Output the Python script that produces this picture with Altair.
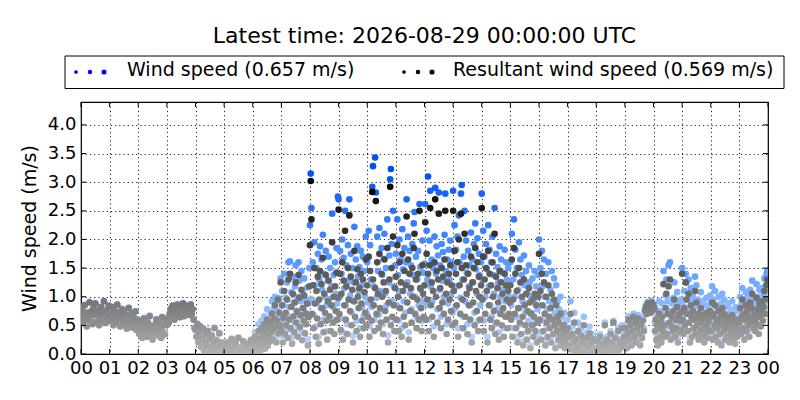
import altair as alt
import pandas as pd

TITLE = "Latest time: 2026-08-29 00:00:00 UTC"
LABEL_WIND = "Wind speed (0.657 m/s)"
LABEL_RES = "Resultant wind speed (0.569 m/s)"
Y_TITLE = "Wind speed (m/s)"
HOUR_TICKS = list(range(0, 25))
Y_TICKS = [0.0, 0.5, 1.0, 1.5, 2.0, 2.5, 3.0, 3.5, 4.0]

# Resultant wind speed: one string per hour, evenly spaced samples within the hour (cm/s)
RESULTANT = [
    "62 78 55 70 85 60 48 72 66 90 58 74 52 80 68 88 56 70 76 50 64 82 58 72 92 60 54 76 68 84",
    "70 58 82 64 50 76 68 55 86 62 72 48 66 78 56 74 52 68 44 62 80 58 50 70 46 64 56 74 42 60",
    "48 35 58 42 28 52 62 38 45 30 55 40 66 34 48 25 50 44 36 60 42 32 54 46 28 64 38 50 34 58",
    "50 62 55 70 78 66 84 72 60 80 74 86 68 76 64 82 70 88 66 78 72 84 74 68 80 86 70 78 60 45",
    "42 30 52 20 38 48 12 28 44 6 22 35 15 40 2 26 10 32 4 18 45 8 24 0 14 36 5 20 1 12",
    "3 12 0 20 6 1 15 4 26 2 9 0 18 7 1 28 3 11 0 8 22 2 14 5 0 17 4 10 24 6",
    "5 18 2 30 11 0 24 8 40 15 3 28 45 12 20 35 52 9 41 26 60 14 33 48 22 55 38 70 25 44 62 85 47 20 58 95 36 72 50 125",
    "42 85 20 63 110 35 72 50 95 28 130 60 140 45 82 18 105 66 38 90 125 55 74 30 138 98 47 68 112 24 80 58 102 36 70 52 88 15 64 118",
    "190 302 235 70 120 45 150 88 30 110 62 135 18 95 145 52 122 80 168 38 105 72 138 58 25 92 128 66 112 40 85 195 55 100 35 118 75 142 60 98",
    "252 70 140 42 105 160 25 128 85 215 60 118 35 150 95 242 75 135 50 112 20 92 180 65 125 40 148 100 80 115 30 140 88 58 130 45 108 72 165 50",
    "120 65 170 30 145 95 58 283 130 85 40 115 267 70 160 105 45 175 80 55 140 100 35 125 165 75 110 60 185 20 90 130 292 50 150 65 205 85 40 115",
    "135 60 190 100 40 160 80 125 30 175 110 65 145 50 120 240 90 165 25 140 75 115 55 150 100 185 210 70 130 45 95 140 60 250 115 80 40 155 105 65",
    "120 230 60 175 95 140 40 155 255 85 125 65 110 30 160 270 100 145 55 130 245 80 115 45 150 90 135 70 165 250 105 35 125 60 140 95 155 75 120 50",
    "250 110 180 55 140 85 160 30 200 120 70 245 150 95 45 130 210 65 155 105 35 140 85 115 60 170 20 125 90 150 50 185 110 75 160 40 135 100 60 120",
    "255 95 170 40 130 70 150 110 20 180 85 140 60 120 45 160 100 75 210 35 135 55 115 90 25 145 70 125 50 105 80 30 140 65 120 95 45 110 70 90",
    "120 60 165 30 95 185 70 140 45 110 20 80 150 55 125 35 100 65 15 130 85 50 105 25 75 40 115 90 10 70 50 95 30 65 105 40 85 20 55 100",
    "175 60 110 25 140 85 40 125 70 15 100 55 30 120 65 45 80 20 105 60 35 95 50 10 85 40 65 25 55 30 70 15 45 20 35 50 10 25 40 15",
    "45 15 30 70 8 35 20 55 3 25 10 40 14 2 32 6 22 50 4 16 28 1 12 36 5 20 3 26 9 0",
    "5 22 2 12 30 0 8 18 3 50 10 25 1 15 6 35 2 20 55 9 28 4 14 40 7 22 11 45 16 30",
    "20 45 10 35 60 25 50 15 40 65 30 55 20 45 62 35 15 50 28 58 40 75 82 70 88 78 85 72 90 80",
    "85 78 40 60 25 50 15 45 70 30 55 20 65 40 122 50 30 80 105 35 70 118 55 130 25 48 65 40 75 95 30 60 45 82 20 68 38 58 72 42",
    "140 60 35 80 50 125 95 70 40 105 55 20 85 65 30 75 45 60 110 35 90 50 70 25 62 40 80 55 30 68 45 20 62 38 72 50 28 58 42 75",
    "65 40 90 25 70 50 85 30 60 45 20 75 55 35 65 15 80 50 40 70 25 60 45 30 65 50 20 58 35 42 68 28 52 38 18 60 45 30 55 40",
    "55 80 35 65 95 45 70 25 60 85 40 75 50 65 30 90 55 80 105 60 45 70 40 62 98 52 78 35 88 66 48 72 92 58 82 110 70 96 120 130",
]

# Wind speed (scalar mean): one string per hour (cm/s)
WIND = [
    "63 79 56 71 86 61 49 73 67 91 59 75 53 81 69 89 57 71 77 51 65 83 59 73 93 61 55 77 69 85",
    "71 59 83 65 51 77 69 56 87 63 73 49 67 79 57 75 53 69 45 63 81 59 51 71 47 65 57 75 43 61",
    "49 36 59 43 29 53 63 39 46 31 56 41 67 35 49 26 51 45 37 61 43 33 55 47 29 65 39 51 35 59",
    "51 63 56 71 79 67 85 73 61 81 75 87 69 77 65 83 71 89 67 79 73 85 75 69 81 87 71 79 61 46",
    "43 31 53 21 39 49 13 29 45 7 23 36 16 41 3 27 11 33 5 19 46 9 25 1 15 37 6 21 2 13",
    "4 13 1 21 7 2 16 5 27 3 10 1 19 8 2 29 4 12 1 9 23 3 15 6 1 18 5 11 25 7",
    "8 25 4 38 16 2 32 12 52 22 6 36 58 18 28 46 66 14 54 35 78 20 44 62 30 72 50 92 34 58 80 100 62 28 76 98 48 94 66 132",
    "60 110 32 85 140 52 98 70 125 42 160 82 162 64 108 30 135 90 55 118 155 76 100 45 160 128 66 92 145 38 106 80 132 52 95 72 116 26 88 150",
    "225 315 255 95 160 68 195 120 48 150 90 175 30 130 188 80 165 112 208 60 140 100 180 85 40 128 170 96 150 62 118 245 82 138 55 160 105 185 88 275",
    "270 98 180 62 140 200 38 168 115 250 85 155 52 190 128 270 102 175 72 150 32 125 222 92 165 58 188 135 110 152 45 180 120 82 170 66 145 100 205 72",
    "160 90 215 48 190 130 82 292 328 118 60 343 282 98 205 145 68 220 110 78 185 138 52 166 210 105 150 85 235 32 125 172 305 323 192 92 250 118 60 155",
    "175 85 235 138 58 200 110 165 45 218 148 92 185 72 160 270 125 205 38 180 105 155 78 192 138 228 248 100 170 65 130 180 85 262 152 112 58 198 142 92",
    "158 262 85 215 130 310 60 198 285 118 165 92 150 48 205 290 140 188 78 172 282 112 155 65 192 128 178 100 208 280 145 52 165 88 182 130 198 105 160 72",
    "285 150 225 80 182 118 205 45 242 160 98 280 295 130 65 170 250 92 198 142 52 180 118 155 85 212 30 165 125 192 72 228 148 105 202 58 175 138 85 160",
    "280 130 215 58 170 100 192 148 30 225 118 182 85 160 65 205 138 105 255 52 175 78 152 125 38 188 100 165 72 142 112 45 182 92 160 130 65 150 100 125",
    "160 85 210 45 130 235 100 182 65 150 30 112 195 80 165 52 138 92 22 172 120 72 145 38 105 58 155 125 15 100 72 132 45 92 145 58 118 30 78 138",
    "200 85 150 38 180 118 58 165 100 22 140 78 45 160 92 65 112 30 145 85 50 132 72 15 120 58 92 38 78 45 100 22 65 30 50 72 15 38 58 22",
    "60 22 42 92 12 48 28 72 5 34 15 55 20 4 44 9 30 65 6 22 38 2 18 48 8 28 5 35 13 1",
    "7 26 3 15 35 1 10 22 4 55 12 30 2 18 8 40 3 24 58 11 33 5 17 46 9 26 13 50 19 35",
    "24 50 12 40 66 30 55 18 45 70 35 60 24 50 68 40 18 56 32 64 45 78 85 73 91 81 88 75 93 83",
    "88 81 55 80 35 68 22 62 92 42 75 30 88 55 145 68 42 102 130 48 92 155 75 160 35 65 88 55 98 125 42 80 62 108 28 90 52 78 95 58",
    "150 85 48 110 72 140 125 95 55 130 78 28 115 90 42 100 62 82 135 48 120 70 95 35 85 55 108 75 42 92 62 28 85 52 98 70 38 80 58 102",
    "90 55 118 35 95 68 110 42 82 62 28 100 75 48 88 20 105 68 55 95 35 82 62 42 88 68 28 78 48 58 92 38 72 52 25 82 62 42 75 55",
    "75 100 48 88 115 62 92 35 82 108 55 98 68 88 42 112 75 102 128 82 62 95 55 85 122 72 100 48 112 88 65 95 115 78 105 132 92 120 140 145",
]


def to_frame(hour_strings, series):
    rows = []
    for h, s in enumerate(hour_strings):
        vals = [int(v) for v in s.split()]
        n = len(vals)
        for i, v in enumerate(vals):
            rows.append({"hour": h + i / n, "speed": v / 100.0, "series": series})
    return pd.DataFrame(rows)


wind_df = to_frame(WIND, "wind")
res_df = to_frame(RESULTANT, "resultant")
xtick_df = pd.DataFrame({"hour": HOUR_TICKS})
ytick_df = pd.DataFrame({"speed": Y_TICKS})

W, H = 687, 252
FONT = "DejaVu Sans"
TICK = 5

x_enc = alt.X(
    "hour:Q",
    scale=alt.Scale(domain=[0, 24], nice=False, zero=False),
    axis=alt.Axis(
        values=HOUR_TICKS,
        labelExpr="(datum.value % 24 < 10 ? '0' : '') + (datum.value % 24)",
        title=None,
        grid=True,
        labelFlush=False,
        labelOverlap=False,
        ticks=False,
        labelPadding=5,
        domain=False,
    ),
)
y_enc = alt.Y(
    "speed:Q",
    scale=alt.Scale(domain=[0, 4.4], nice=False),
    axis=alt.Axis(
        values=Y_TICKS,
        format=".1f",
        title=Y_TITLE,
        grid=True,
        ticks=False,
        labelPadding=5,
        domain=False,
        titleX=-52,
        titleY=H / 2,
        titleAngle=270,
        titleAlign="center",
        titleBaseline="middle",
    ),
)

wind_layer = alt.Chart(wind_df).mark_circle(size=44, opacity=1, clip=True).encode(
    x=x_enc,
    y=y_enc,
    color=alt.Color(
        "speed:Q",
        scale=alt.Scale(domain=[0, 1.5, 3.2], range=["#c4dbff", "#5f9dff", "#0050ee"], clamp=True),
        legend=None,
    ),
)

res_layer = alt.Chart(res_df).mark_circle(size=44, opacity=1, clip=True).encode(
    x=x_enc,
    y=y_enc,
    color=alt.Color(
        "speed:Q",
        scale=alt.Scale(domain=[0, 2.9], range=["#b2b2b2", "#000000"], clamp=True),
        legend=None,
    ),
)

# inward tick marks on all four sides (matplotlib classic style)
xt_bottom = alt.Chart(xtick_df).mark_rule(color="black", strokeWidth=1).encode(
    x=x_enc, y=alt.value(H), y2=alt.value(H - TICK)
)
xt_top = alt.Chart(xtick_df).mark_rule(color="black", strokeWidth=1).encode(
    x=x_enc, y=alt.value(0), y2=alt.value(TICK)
)
yt_left = alt.Chart(ytick_df).mark_rule(color="black", strokeWidth=1).encode(
    y=y_enc, x=alt.value(0), x2=alt.value(TICK)
)
yt_right = alt.Chart(ytick_df).mark_rule(color="black", strokeWidth=1).encode(
    y=y_enc, x=alt.value(W - TICK), x2=alt.value(W)
)

one = alt.Data(values=[{"k": 0}])

title_layer = alt.Chart(one).mark_text(
    text=TITLE, font=FONT, fontSize=22, align="center", baseline="alphabetic", color="black"
).encode(x=alt.value(W / 2), y=alt.value(-59))

legend_box = alt.Chart(one).mark_rect(fill="white", stroke="black", strokeWidth=1).encode(
    x=alt.value(-16), x2=alt.value(703), y=alt.value(-46), y2=alt.value(-13.5)
)

dot_sizes = [14, 20, 26]
wind_dot_x = [-5, 9, 23]
res_dot_x = [323, 337, 351]
dots = []
for xs, col in [(wind_dot_x, "#0000ff"), (res_dot_x, "#000000")]:
    for xv, sz in zip(xs, dot_sizes):
        dots.append(
            alt.Chart(one).mark_circle(size=sz, color=col, opacity=1).encode(
                x=alt.value(xv), y=alt.value(-30)
            )
        )

legend_text_wind = alt.Chart(one).mark_text(
    text=LABEL_WIND, font=FONT, fontSize=19, align="left", baseline="alphabetic", color="black"
).encode(x=alt.value(46), y=alt.value(-26))
legend_text_res = alt.Chart(one).mark_text(
    text=LABEL_RES, font=FONT, fontSize=19, align="left", baseline="alphabetic", color="black"
).encode(x=alt.value(372), y=alt.value(-26))

chart = (
    alt.layer(
        wind_layer, res_layer, xt_bottom, xt_top, yt_left, yt_right,
        title_layer, legend_box, *dots, legend_text_wind, legend_text_res,
    )
    .resolve_scale(color="independent")
    .properties(
        width=W,
        height=H,
        autosize=alt.AutoSizeParams(type="none"),
        padding={"left": 73, "top": 94, "right": 20, "bottom": 30},
        background="white",
    )
    .configure(font=FONT)
    .configure_view(stroke="black", strokeWidth=1.2)
    .configure_axis(
        labelFont=FONT,
        labelFontSize=18,
        labelColor="black",
        titleFont=FONT,
        titleFontSize=19,
        titleFontWeight="normal",
        titleColor="black",
        gridColor="black",
        gridDash=[1.2, 3],
        gridWidth=1,
        gridOpacity=0.85,
    )
)

chart.save("out.html", embed_options={"renderer": "svg", "actions": False})
